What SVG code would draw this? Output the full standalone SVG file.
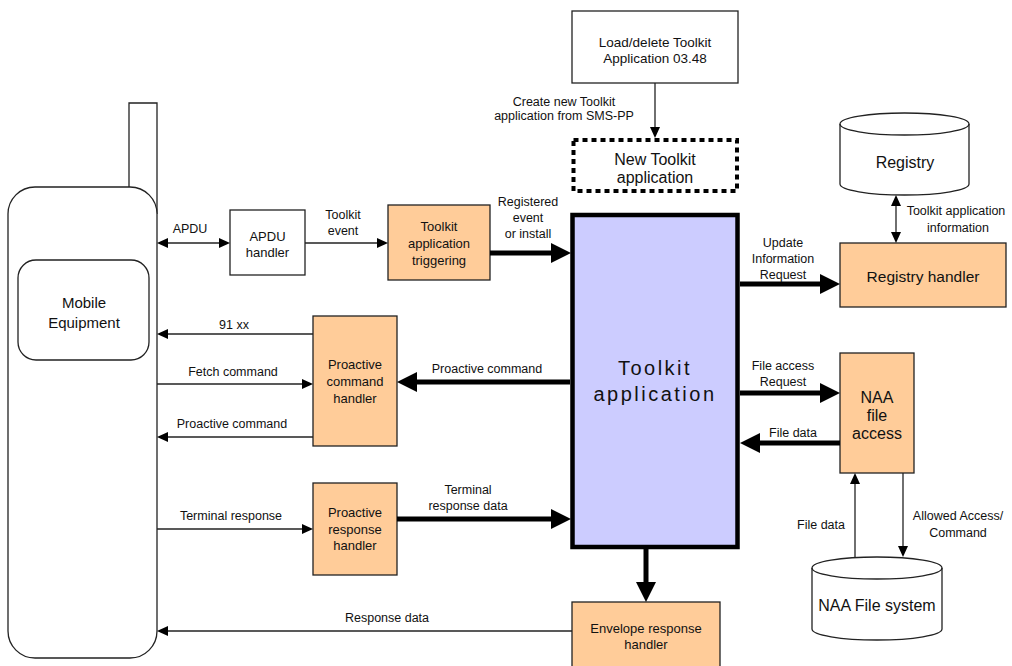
<svg xmlns="http://www.w3.org/2000/svg" width="1012" height="666" viewBox="0 0 1012 666">
<style>
text{font-family:"Liberation Sans",Arial,sans-serif;fill:#111;text-anchor:middle}
.lbl{font-size:12.5px}
.bx{font-size:13px}
.big{font-size:16px}
.shape{fill:#fff;stroke:#222;stroke-width:1.3}
.orange{fill:#FFCC99;stroke:#222;stroke-width:1.3}
.thin{stroke:#222;stroke-width:1.3;fill:none}
.thick{stroke:#000;stroke-width:5;fill:none}
</style>
<defs>
<marker id="ah" markerUnits="userSpaceOnUse" markerWidth="11" markerHeight="10" refX="0" refY="5" orient="auto-start-reverse"><path d="M0,0 L11,5 L0,10 z" fill="#000"/></marker>
<marker id="AH" markerUnits="userSpaceOnUse" markerWidth="20" markerHeight="20" refX="0" refY="10" orient="auto-start-reverse"><path d="M0,0 L20,10 L0,20 z" fill="#000"/></marker>
</defs>

<g id="mobile">
<path class="shape" d="M129,187 V103 H157 V214"/>
<path class="shape" d="M8,214 A27,27 0 0 1 35,187 L130,187 A27,27 0 0 1 157,214 L157,631 A27,27 0 0 1 130,658 L35,658 A27,27 0 0 1 8,631 Z"/>
<rect class="shape" x="18" y="260" width="131" height="100" rx="18"/>
<text class="big" x="84" y="308" style="font-size:15px">Mobile</text>
<text class="big" x="84" y="328" style="font-size:15px">Equipment</text>
</g>

<g id="apdu-handler">
<rect class="shape" x="230" y="210" width="75" height="65"/>
<text class="bx" x="267.5" y="240.5">APDU</text>
<text class="bx" x="267.5" y="256.5">handler</text>
</g>

<g id="triggering">
<rect class="orange" x="388" y="205" width="102" height="75"/>
<text class="bx" x="439" y="230.5">Toolkit</text>
<text class="bx" x="439" y="247.5">application</text>
<text class="bx" x="439" y="264.5">triggering</text>
</g>

<g id="load-delete">
<rect class="shape" x="572" y="11" width="166" height="72"/>
<text x="655" y="46.5" style="font-size:13.5px">Load/delete Toolkit</text>
<text x="655" y="63" style="font-size:13.5px">Application 03.48</text>
</g>

<g id="new-toolkit">
<rect x="573.5" y="140" width="163.5" height="51" fill="#fff" stroke="#000" stroke-width="4" stroke-dasharray="5 4"/>
<text class="big" x="655" y="164.5">New Toolkit</text>
<text class="big" x="655" y="182.5">application</text>
</g>

<g id="toolkit-app">
<rect x="572.5" y="215" width="165" height="332" fill="#CCCCFF" stroke="#000" stroke-width="4.5"/>
<text x="655" y="375" style="font-size:20px;letter-spacing:2.5px">Toolkit</text>
<text x="655" y="401" style="font-size:20px;letter-spacing:2.5px">application</text>
</g>

<g id="registry">
<path class="shape" d="M840,124 A64.5,11 0 0 1 969,124 V184 A64.5,11 0 0 1 840,184 Z"/>
<path class="thin" d="M840,124 A64.5,11 0 0 0 969,124"/>
<text class="big" x="905" y="168">Registry</text>
</g>

<g id="registry-handler">
<rect class="orange" x="840" y="243" width="166" height="64"/>
<text x="923" y="281.5" style="font-size:15.5px">Registry handler</text>
</g>

<g id="naa-file-access">
<rect class="orange" x="840" y="353" width="74" height="120"/>
<text class="big" x="877" y="403">NAA</text>
<text class="big" x="877" y="421">file</text>
<text class="big" x="877" y="439">access</text>
</g>

<g id="naa-file-system">
<path class="shape" d="M812,568 A65,11 0 0 1 942,568 V629 A65,11 0 0 1 812,629 Z"/>
<path class="thin" d="M812,568 A65,11 0 0 0 942,568"/>
<text class="big" x="877" y="611">NAA File system</text>
</g>

<g id="proactive-command-handler">
<rect class="orange" x="313" y="316" width="84" height="130"/>
<text class="bx" x="355" y="368.5">Proactive</text>
<text class="bx" x="355" y="385.5">command</text>
<text class="bx" x="355" y="402.5">handler</text>
</g>

<g id="proactive-response-handler">
<rect class="orange" x="313" y="483" width="84" height="92"/>
<text class="bx" x="355" y="516.5">Proactive</text>
<text class="bx" x="355" y="533.5">response</text>
<text class="bx" x="355" y="549.5">handler</text>
</g>

<g id="envelope-response-handler">
<rect class="orange" x="572" y="602" width="148" height="70"/>
<text class="bx" x="646" y="632.5">Envelope response</text>
<text class="bx" x="646" y="648.5">handler</text>
</g>

<g id="connectors">
<line class="thin" x1="168" y1="243" x2="219" y2="243" marker-start="url(#ah)" marker-end="url(#ah)"/>
<line class="thin" x1="305" y1="243" x2="377" y2="243" marker-end="url(#ah)"/>
<line class="thick" x1="490" y1="253" x2="551" y2="253" marker-end="url(#AH)"/>
<line class="thin" x1="655" y1="83" x2="655" y2="127" marker-end="url(#ah)"/>
<line class="thin" x1="896" y1="206" x2="896" y2="232" marker-start="url(#ah)" marker-end="url(#ah)"/>
<line class="thick" x1="740" y1="284" x2="820" y2="284" marker-end="url(#AH)"/>
<line class="thick" x1="740" y1="393" x2="820" y2="393" marker-end="url(#AH)"/>
<line class="thick" x1="840" y1="443" x2="760" y2="443" marker-end="url(#AH)"/>
<line class="thin" x1="855" y1="558" x2="855" y2="484" marker-end="url(#ah)"/>
<line class="thin" x1="903" y1="473" x2="903" y2="546" marker-end="url(#ah)"/>
<line class="thin" x1="313" y1="334" x2="168" y2="334" marker-end="url(#ah)"/>
<line class="thin" x1="157" y1="384" x2="302" y2="384" marker-end="url(#ah)"/>
<line class="thin" x1="313" y1="437" x2="168" y2="437" marker-end="url(#ah)"/>
<line class="thick" x1="570" y1="382" x2="417" y2="382" marker-end="url(#AH)"/>
<line class="thin" x1="157" y1="529" x2="302" y2="529" marker-end="url(#ah)"/>
<line class="thick" x1="397" y1="519" x2="551" y2="519" marker-end="url(#AH)"/>
<line class="thick" x1="646" y1="549" x2="646" y2="582" marker-end="url(#AH)"/>
<line class="thin" x1="572" y1="631" x2="168" y2="631" marker-end="url(#ah)"/>

<text class="lbl" x="190" y="232.5">APDU</text>
<text class="lbl" x="343" y="218.5">Toolkit</text>
<text class="lbl" x="343" y="234.5">event</text>
<text class="lbl" x="528" y="206">Registered</text>
<text class="lbl" x="528" y="221.5">event</text>
<text class="lbl" x="528" y="237.5">or install</text>
<text class="lbl" x="564" y="105.5">Create new Toolkit</text>
<text class="lbl" x="564" y="120">application from SMS-PP</text>
<text class="lbl" x="956" y="214.5">Toolkit application</text>
<text class="lbl" x="958" y="231.5">information</text>
<text class="lbl" x="783" y="246.5">Update</text>
<text class="lbl" x="783" y="262.5">Information</text>
<text class="lbl" x="783" y="278.5">Request</text>
<text class="lbl" x="783" y="369.5">File access</text>
<text class="lbl" x="783" y="385.5">Request</text>
<text class="lbl" x="793" y="436.5">File data</text>
<text class="lbl" x="821" y="528.5">File data</text>
<text class="lbl" x="958" y="519.5">Allowed Access/</text>
<text class="lbl" x="958" y="536.5">Command</text>
<text class="lbl" x="234" y="328.5">91 xx</text>
<text class="lbl" x="233" y="375.5">Fetch command</text>
<text class="lbl" x="232" y="427.5">Proactive command</text>
<text class="lbl" x="487" y="372.5">Proactive command</text>
<text class="lbl" x="231" y="519.5">Terminal response</text>
<text class="lbl" x="468" y="493.5">Terminal</text>
<text class="lbl" x="468" y="509.5">response data</text>
<text class="lbl" x="387" y="622">Response data</text>
</g>
</svg>
